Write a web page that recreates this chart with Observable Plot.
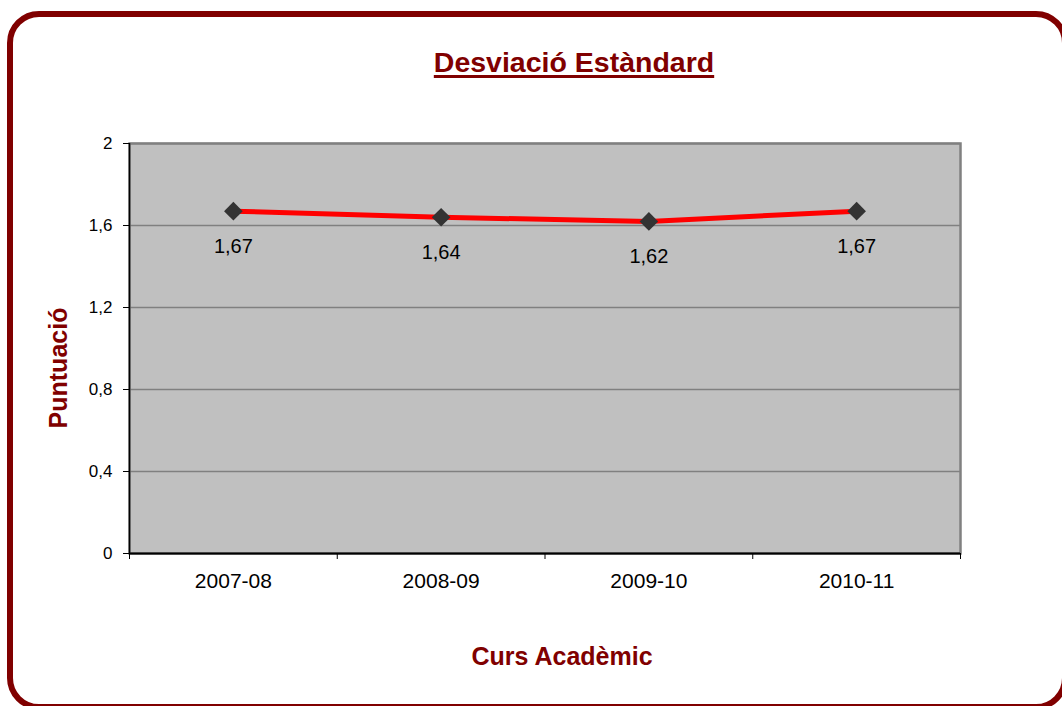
<!DOCTYPE html>
<html>
<head>
<meta charset="utf-8">
<script src="https://cdn.jsdelivr.net/npm/d3@7"></script>
<script src="https://cdn.jsdelivr.net/npm/@observablehq/plot@0.6"></script>
<style>
  html, body { margin: 0; padding: 0; background: #fff; }
  body { width: 1062px; height: 706px; position: relative; overflow: hidden; font-family: "Liberation Sans", Arial, sans-serif; }
  #frame { position: absolute; left: 7px; top: 11px; width: 1061px; height: 699px; box-sizing: border-box; border: 6px solid #800000; border-radius: 32px; }
  #chart { position: absolute; left: 0; top: 0; }
  .title { position: absolute; left: 574px; top: 48px; transform: translateX(-50%); font-weight: bold; font-size: 28.5px; line-height: 28px; color: #800000; text-decoration: underline; text-decoration-thickness: 3px; text-underline-offset: 3px; white-space: nowrap; }
  .xtitle { position: absolute; left: 562px; top: 644px; transform: translateX(-50%); font-weight: bold; font-size: 25px; line-height: 25px; color: #800000; white-space: nowrap; }
  .ytitle { position: absolute; left: 58px; top: 368px; transform: translate(-50%, -50%) rotate(-90deg); font-weight: bold; font-size: 25px; line-height: 25px; color: #800000; white-space: nowrap; }
</style>
</head>
<body>
<div id="frame"></div>
<div id="chart"></div>
<div class="title">Desviació Estàndard</div>
<div class="xtitle">Curs Acadèmic</div>
<div class="ytitle">Puntuació</div>
<script>
const categories = ["2007-08", "2008-09", "2009-10", "2010-11"];
const values = [1.67, 1.64, 1.62, 1.67];
const yTicks = [0, 0.4, 0.8, 1.2, 1.6, 2];

const data = categories.map((c, i) => ({ idx: i + 0.5, cat: c, value: values[i] }));
const boundaries = d3.range(categories.length + 1);
const comma = d => String(d).replace(".", ",");

const chart = Plot.plot({
  width: 1062,
  height: 706,
  marginLeft: 129,
  marginRight: 102,
  marginTop: 143,
  marginBottom: 153,
  style: { fontFamily: "'Liberation Sans', Arial, sans-serif", background: "transparent", overflow: "visible" },
  x: { domain: [0, categories.length], axis: null, label: null },
  y: { domain: [0, 2], axis: null, label: null },
  marks: [
    Plot.frame({ fill: "#C0C0C0", stroke: "#808080", strokeWidth: 2.5 }),
    Plot.gridY(yTicks, { stroke: "#808080", strokeOpacity: 1, strokeWidth: 1.5 }),
    Plot.ruleX([0], { stroke: "#000", strokeWidth: 1.5 }),
    Plot.ruleY([0], { stroke: "#000", strokeWidth: 2 }),
    Plot.axisY(yTicks, { label: null, tickSize: 6, tickPadding: 11, tickFormat: comma, fontSize: 17, stroke: "#000", color: "#000" }),
    Plot.axisX(boundaries, { label: null, tickSize: 6, tickFormat: () => "", stroke: "#000" }),
    Plot.text(data, { x: "idx", frameAnchor: "bottom", dy: 28, text: "cat", fontSize: 21, fill: "#000", lineAnchor: "middle" }),
    Plot.line(data, { x: "idx", y: "value", stroke: "#FF0000", strokeWidth: 5 }),
    Plot.dot(data, { x: "idx", y: "value", symbol: "diamond2", r: 8.4, fill: "#333333", stroke: "none" }),
    Plot.text(data, { x: "idx", y: "value", dy: 35, text: d => d.value.toFixed(2).replace(".", ","), fontSize: 20, fill: "#000", lineAnchor: "middle" })
  ]
});
document.getElementById("chart").appendChild(chart);
</script>
</body>
</html>
